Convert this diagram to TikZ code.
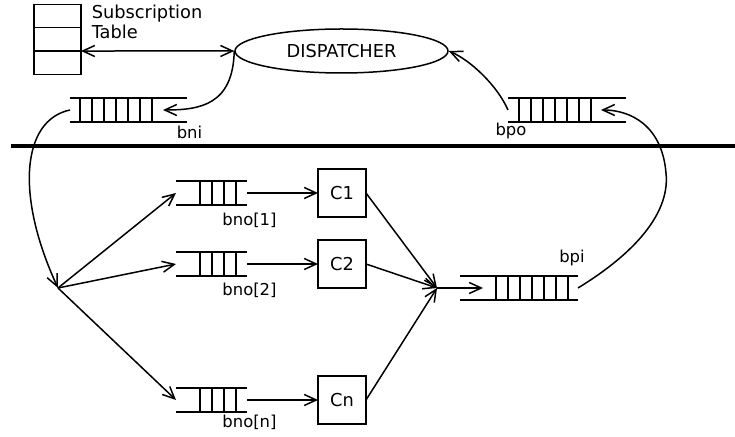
\documentclass[tikz,border=0pt]{standalone}
\usepackage{fontspec}
\setmainfont{DejaVu Sans}
\usetikzlibrary{arrows.meta,shapes.geometric,positioning}

% queue: name, left x, right x, middle y, first bar x, number of bars
\newcommand{\queue}[6]{%
	\coordinate (#1w) at (#2,#4);
	\coordinate (#1e) at (#3,#4);
	\draw ({#2},{#4-12}) -- ({#3},{#4-12}) ({#2},{#4+12}) -- ({#3},{#4+12});
	\foreach \i in {1,...,#6} \draw ({#5+12*(\i-1)},{#4-12}) -- ({#5+12*(\i-1)},{#4+12});
}

\begin{document}
\begin{tikzpicture}
	[x=0.5pt, y=-0.5pt,
	> = {Straight Barb[length=6pt,width=5.5pt]},
	every path/.style = {line width=0.75pt},
	every node/.style = {font=\fontsize{8.9}{10}\selectfont},
	tblrow/.style = {draw, minimum width=23.5pt, minimum height=11.67pt, inner sep=0, outer sep=0},
	disp/.style = {draw, ellipse, minimum width=106.5pt, minimum height=22pt, inner sep=0},
	cbox/.style = {draw, minimum width=24pt, minimum height=24pt, inner sep=0, outer sep=0},
	qlabel/.style = {anchor=base, inner sep=0, font=\fontsize{8.2}{10}\selectfont}
	]
	\useasboundingbox (0,0) rectangle (735,437);

	% subscription table and dispatcher
	\node[tblrow] (row1) at (57.5,16) {};
	\node[tblrow, below=0pt of row1] (row2) {};
	\node[tblrow, below=0pt of row2] (row3) {};
	\node[anchor=west, align=left, inner sep=0] (tbl) at (91,22) {Subscription\\Table};
	\node[disp] (disp) at (341.5,51) {DISPATCHER};
	\draw[<->] (row2.south east) -- (disp.west);

	% queues
	\queue{bni}{70}{187}{110}{80}{7}
	\queue{bpo}{508}{626}{110}{519}{7}
	\queue{bpi}{460}{578}{288}{496}{7}
	\queue{bnoa}{176}{247}{193}{200}{4}
	\queue{bnob}{176}{247}{264}{200}{4}
	\queue{bnon}{176}{247}{400}{200}{4}
	\node[qlabel] (lbni) at (189.5,139) {bni};
	\node[qlabel] (lbpo) at (511,136) {bpo};
	\node[qlabel] (lbpi) at (572,263) {bpi};
	\node[qlabel] (lbnoa) at (249.5,226) {bno[1]};
	\node[qlabel] (lbnob) at (249.5,296) {bno[2]};
	\node[qlabel] (lbnon) at (249.5,428) {bno[n]};
	\coordinate (bni in) at (163,110);
	\coordinate (bpo in) at (601,110);
	\coordinate (bpi in) at (483,288);

	% boundary
	\draw[line width=2pt] (11,146) -- (735,146);

	% consumers
	\node[cbox] (c1) at (342,193) {C1};
	\node[cbox] (c2) at (342,264) {C2};
	\node[cbox] (cn) at (342,400) {Cn};
	\coordinate (split) at (58,288);
	\coordinate (merge) at (437,288);

	\draw[->] (disp.west) .. controls (233,105) and (200,110) .. (bni in);
	\draw[->] (bpow) .. controls (497,85) and (470,60) .. (disp.east);
	\draw[->] (bniw) .. controls (22,120) and (15,195) .. (split);
	\draw[->] (split) -- (bnoaw);
	\draw[->] (split) -- (bnobw);
	\draw[->] (split) -- (bnonw);
	\draw[->] (bnoae) -- (c1.west);
	\draw[->] (bnobe) -- (c2.west);
	\draw[->] (bnone) -- (cn.west);
	\draw[->] (c1.east) -- (merge);
	\draw[->] (c2.east) -- (merge);
	\draw[->] (cn.east) -- (merge);
	\draw[->] (merge) -- (bpi in);
	\draw[->] (bpie) .. controls (640,250) and (670,210) .. (666,173) .. controls (662,125) and (630,110) .. (bpo in);
\end{tikzpicture}
\end{document}
